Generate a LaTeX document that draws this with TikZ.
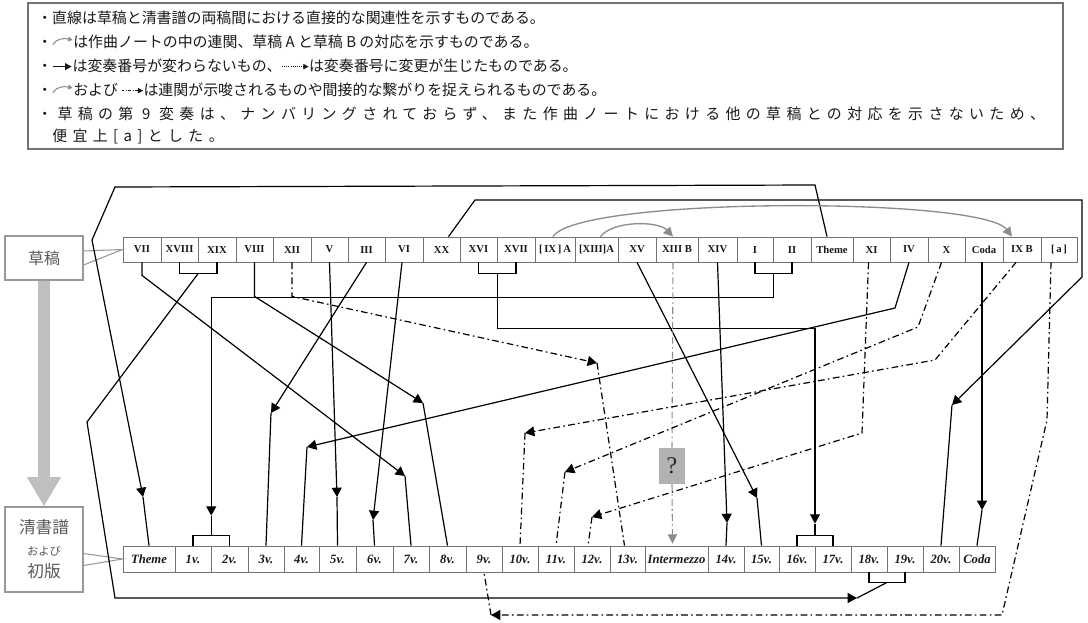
\documentclass[tikz,border=0pt]{standalone}
\usepackage{fontspec}
\setmainfont{Liberation Serif}
\newfontfamily\cjk{Noto Sans CJK JP}
\usetikzlibrary{arrows.meta,calc}

\newcommand\garr{\tikz[x=1pt,y=1pt,baseline=-3.8pt]\draw[line width=0.8pt,black!45,-{Triangle[length=3.5pt,width=3.5pt]}] (0,-1.5) .. controls (3,3) and (8,3.5) .. (15,2);}
\newcommand\barr{\tikz[x=1pt,y=1pt,baseline=-3.8pt]\draw[line width=1.3pt,-{Triangle[length=5pt,width=5pt]}] (0,0) -- (14,0);}
\newcommand\darr{\tikz[x=1pt,y=1pt,baseline=-3.8pt]\draw[line width=0.5pt,dash pattern=on 0.8pt off 0.8pt,-{Triangle[length=4pt,width=4pt]}] (0,0) -- (20,0);}
\newcommand\ddarr{\tikz[x=1pt,y=1pt,baseline=-3.8pt]\draw[line width=0.6pt,dash pattern=on 2pt off 1.2pt on 0.6pt off 1.2pt,-{Triangle[length=4pt,width=4pt]}] (0,0) -- (16,0);}

\newcommand\TC[4]{\node[tcell,minimum width={(#3-#2)*0.75pt}] (#1) at ({(#2+#3)/2},249.5) {#4};}
\newcommand\BC[4]{\node[bcell,minimum width={(#3-#2)*0.75pt}] (#1) at ({(#2+#3)/2},559) {#4};}

\tikzset{
 cellbase/.style={draw=black!55, line width=0.6pt, inner sep=0pt, text=black!90},
 tcell/.style={cellbase, minimum height=18.75pt, font=\fontsize{8}{9}\selectfont\bfseries},
 bcell/.style={cellbase, minimum height=19.5pt, font=\fontsize{9.5}{10}\selectfont\bfseries\itshape},
 conn/.style={line width=0.9pt, black},
 ddot/.style={conn, dash pattern=on 5pt off 2.5pt on 1.2pt off 2.5pt},
 gdot/.style={line width=0.8pt, black!45, dash pattern=on 5pt off 2.5pt on 1.2pt off 2.5pt},
 tip/.style={-{Triangle[length=7pt,width=7.5pt]}},
 gtip/.style={-{Triangle[length=7pt,width=7pt]}},
 grayline/.style={line width=1pt, black!45},
 brk/.style={line width=0.9pt, black},
 legl/.style={anchor=west, inner sep=0pt, font=\cjk\fontsize{11.2}{13}\selectfont, text=black!90},
 lbox/.style={draw=black!40, line width=0.8pt, fill=white, inner sep=0pt, text=black!65},
 qbox/.style={fill=black!30, minimum width=19.5pt, minimum height=27pt, inner sep=0pt, font=\fontsize{18}{18}\selectfont, text=black!85},
}

\begin{document}
\begin{tikzpicture}[x=0.75pt,y=-0.75pt]
\useasboundingbox (0,0) rectangle (1088,622);

% legend
\node[draw=black!55,line width=1pt,minimum width=776.25pt,minimum height=109.5pt,inner sep=0pt] (leg) at (545.5,76) {};
\node[legl] (l1) at (37,18) {・直線は草稿と清書譜の両稿間における直接的な関連性を示すものである。};
\node[legl] (l2) at (37,42) {・\garr は作曲ノートの中の連関、草稿 A と草稿 B の対応を示すものである。};
\node[legl] (l3) at (37,66) {・\barr は変奏番号が変わらないもの、\darr は変奏番号に変更が生じたものである。};
\node[legl] (l4) at (37,90) {・\garr および \ddarr は連関が示唆されるものや間接的な繋がりを捉えられるものである。};
\node[legl] (l5) at (37,114) {\addfontfeatures{LetterSpace=36}・草稿の第 9 変奏は、ナンバリングされておらず、また作曲ノートにおける他の草稿との対応を示さないため、};
\node[legl] (l6) at (52,136) {\addfontfeatures{LetterSpace=36}便宜上[a]とした。};

% top row
\TC{t1}{123}{161}{VII}
\TC{t2}{161}{198}{XVIII}
\TC{t3}{198}{236}{XIX}
\TC{t4}{236}{273}{VIII}
\TC{t5}{273}{311}{XII}
\TC{t6}{311}{348}{V}
\TC{t7}{348}{385}{III}
\TC{t8}{385}{423}{VI}
\TC{t9}{423}{460}{XX}
\TC{t10}{460}{497}{XVI}
\TC{t11}{497}{535}{XVII}
\TC{t12}{535}{575}{[\,IX\,]\,A}
\TC{t13}{575}{618}{[XIII]A}
\TC{t14}{618}{656}{XV}
\TC{t15}{656}{698}{XIII B}
\TC{t16}{698}{737}{XIV}
\TC{t17}{737}{773}{I}
\TC{t18}{773}{811}{II}
\TC{t19}{811}{853}{Theme}
\TC{t20}{853}{890}{XI}
\TC{t21}{890}{928}{IV}
\TC{t22}{928}{965}{X}
\TC{t23}{965}{1003}{Coda}
\TC{t24}{1003}{1041}{IX B}
\TC{t25}{1041}{1077}{[\,a\,]}

% bottom row
\BC{b1}{123}{175}{Theme}
\BC{b2}{175}{211}{1v.}
\BC{b3}{211}{248}{2v.}
\BC{b4}{248}{284}{3v.}
\BC{b5}{284}{319}{4v.}
\BC{b6}{319}{356}{5v.}
\BC{b7}{356}{393}{6v.}
\BC{b8}{393}{429}{7v.}
\BC{b9}{429}{466}{8v.}
\BC{b10}{466}{502}{9v.}
\BC{b11}{502}{538}{10v.}
\BC{b12}{538}{574}{11v.}
\BC{b13}{574}{610}{12v.}
\BC{b14}{610}{645}{13v.}
\BC{b15}{645}{708}{Intermezzo}
\BC{b16}{708}{744}{14v.}
\BC{b17}{744}{779}{15v.}
\BC{b18}{779}{815}{16v.}
\BC{b19}{815}{851}{17v.}
\BC{b20}{851}{887}{18v.}
\BC{b21}{887}{923}{19v.}
\BC{b22}{923}{959}{20v.}
\BC{b23}{959}{995}{Coda}

% brackets
\draw[brk] (t2.south) -- ++(0,11) -| (t3.south);
\draw[brk] (t10.south) -- ++(0,11) -| (t11.south);
\draw[brk] (t17.south) -- ++(0,11) -| (t18.south);
\draw[brk] (b2.north) -- ++(0,-10) -| (b3.north);
\draw[brk] (b18.north) -- ++(0,-10) -| (b19.north);
\draw[brk] (b20.south) -- ++(0,10) -| (b21.south);
\coordinate (k1) at ($(t2.south)!0.5!(t3.south)+(0,11)$);
\coordinate (k2) at ($(t10.south)!0.5!(t11.south)+(0,11)$);
\coordinate (k3) at ($(t17.south)!0.5!(t18.south)+(0,11)$);
\coordinate (k4) at ($(b2.north)!0.5!(b3.north)+(0,-10)$);
\coordinate (k5) at ($(b18.north)!0.5!(b19.north)+(0,-10)$);
\coordinate (k6) at ($(b20.south)!0.5!(b21.south)+(0,10)$);

% left labels
\node[lbox,minimum width=58.5pt,minimum height=33pt,font=\cjk\fontsize{12}{14}\selectfont] (sk) at (44,258) {草稿};
\node[lbox,minimum width=58.5pt,minimum height=63.75pt,align=center,font=\cjk\fontsize{12.5}{16.5}\selectfont] (qs) at (44,549.5) {清書譜\\{\fontsize{8.5}{16.5}\selectfont および}\\初版};
\draw[black!40,line width=0.8pt] ($(sk.east)+(0,-7)$) -- (t1.west) -- ($(sk.east)+(0,7)$);
\draw[black!40,line width=0.8pt] ($(qs.east)+(0,4)$) -- (b1.west) -- ($(qs.east)+(0,16)$);
\draw[line width=9pt,black!25,-{Triangle[length=22pt,width=24pt]}] (sk.south) -- (qs.north);

% connectors
\coordinate (c1t) at (143,497);
\draw[conn,tip] ($(t19.north)+(-5,0)$) -- (815,185) -- (115,187) -- (92,240) -- (c1t);
\draw[conn] (c1t) -- (b1.north);

\coordinate (c2t) at (952,405);
\draw[conn,tip] ($(t9.north)+(7,0)$) -- (475,200) -- (1082,200) -- (1082,277) -- (c2t);
\draw[conn] (c2t) -- (b22.north);

\draw[grayline,gtip] ($(t12.north)+(-2,0)$) .. controls +(25,-40) and +(-30,-40) .. ($(t24.north)+(-10,0)$);
\draw[grayline,gtip] ($(t13.north)+(4,0)$) .. controls +(12,-16) and +(-15,-16) .. ($(t15.north)+(-4,0)$);

\coordinate (c4t) at (857,598);
\draw[conn,tip] (k1) -- (87,422) -- (115,598) -- (c4t);
\draw[conn] (c4t) -- (k6);

\coordinate (c5t) at (405,476);
\draw[conn,tip] (t1.south) -- ++(0,13) -- (c5t);
\draw[conn] (c5t) -- (b8.north);

\coordinate (c6t) at ($(k4)+(0,-20)$);
\draw[conn,tip] (k3) -- ++(0,24) -| (c6t);
\draw[conn] (c6t) -- (k4);

\coordinate (c7t) at (423,403);
\draw[conn,tip] (t4.south) -- ++(0,34) -- (c7t);
\draw[conn] (c7t) -- (b9.north);

\coordinate (c8t) at (597,363);
\draw[ddot,tip] (t5.south) -- ++(0,34) -- (c8t);
\draw[ddot] (c8t) -- ($(b14.north)+(-3,0)$);

\coordinate (c9t) at (337,497);
\draw[conn,tip] (t6.south) -- (c9t);
\draw[conn] (c9t) -- (b6.north);

\coordinate (c10t) at (271,413);
\draw[conn,tip] (t7.south) -- (c10t);
\draw[conn] (c10t) -- (b4.north);

\coordinate (c11t) at (373,520);
\draw[conn,tip] ($(t8.south)+(-2,0)$) -- (c11t);
\draw[conn] (c11t) -- (b7.north);

\coordinate (c12t) at ($(k5)+(0,-12)$);
\draw[conn,tip] (k2) -- ++(0,55) -| (c12t);
\draw[conn] (c12t) -- (k5);

\coordinate (c13t) at (307,447);
\draw[conn,tip] (t21.south) -- (895,308) -- (c13t);
\draw[conn] (c13t) -- (b5.north);

\coordinate (c14t) at (757,498);
\draw[conn,tip] (t14.south) -- (c14t);
\draw[conn] (c14t) -- (b17.north);

\node[qbox] (q) at (672,466) {?};
\draw[gdot] ($(t15.south)+(-4,0)$) -- (q.north);
\draw[gdot,gtip] (q.south) -- ($(b15.north)+(-4,-2)$);

\coordinate (c16t) at (727,523);
\draw[conn,tip] (t16.south) -- (c16t);
\draw[conn] (c16t) -- (b16.north);

\coordinate (c17t) at (592,517);
\draw[ddot,tip] ($(t20.south)+(-3,0)$) -- (862,433) -- (c17t);
\draw[ddot] (c17t) -- ($(b13.north)+(-4,0)$);

\coordinate (c18t) at (565,472);
\draw[ddot,tip] ($(t22.south)+(-5,0)$) -- (918,327) -- (c18t);
\draw[ddot] (c18t) -- (b12.north);

\coordinate (c19t) at (525,433);
\draw[ddot,tip] ($(t24.south)+(-6,0)$) -- (935,360) -- (c19t);
\draw[ddot] (c19t) -- (b11.north);

\coordinate (c20t) at (491,615);
\draw[ddot,tip] ($(t25.south)+(-8,0)$) -- (1047,420) -- (1002,615) -- (c20t);
\draw[ddot] (c20t) -- (b10.south);

\coordinate (c21t) at (982,510);
\draw[conn,tip] ($(t23.south)+(-2,0)$) -- (c21t);
\draw[conn] (c21t) -- (b23.north);

\end{tikzpicture}
\end{document}
